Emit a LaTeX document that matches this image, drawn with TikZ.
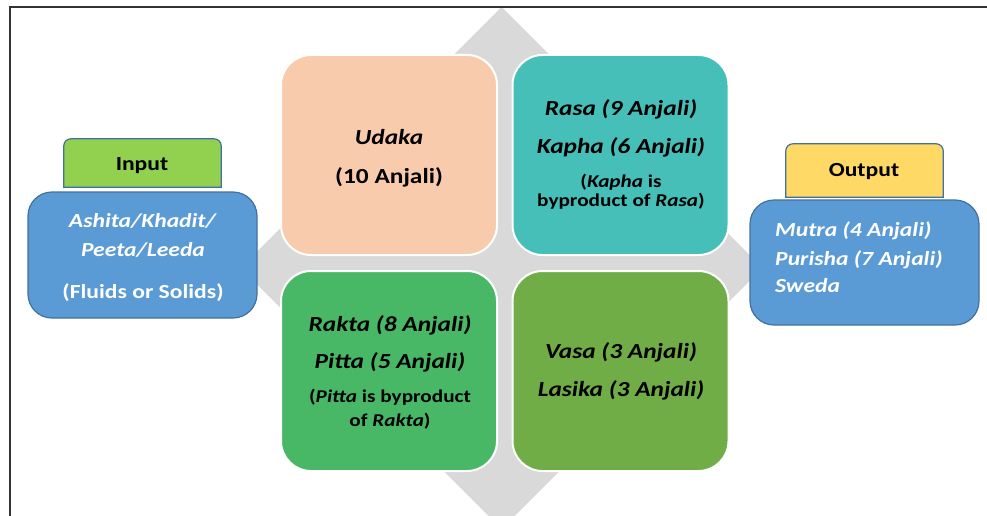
\documentclass[tikz,border=0pt]{standalone}
\usepackage{fontspec}
\setmainfont{Carlito}
\usepackage{graphicx}
\newcommand\sx[1]{\scalebox{1.18}[1]{#1}}
\definecolor{cpeach}{HTML}{F8CBAD}
\definecolor{cteal}{HTML}{45BFB8}
\definecolor{cgreenA}{HTML}{48B866}
\definecolor{cgreenB}{HTML}{70AD47}
\definecolor{cblue}{HTML}{5B9BD5}
\definecolor{cblueline}{HTML}{41719C}
\definecolor{clime}{HTML}{92D050}
\definecolor{cyellow}{HTML}{FFD966}
\definecolor{cgray}{HTML}{D9D9D9}
\definecolor{cframe}{HTML}{333333}
\tikzset{
  quad/.style={draw=white, line width=2pt, rounded corners=30pt, minimum width=216pt, minimum height=200pt, inner sep=0pt},
  iobox/.style={fill=cblue, draw=cblueline, line width=1.2pt, rounded corners=24pt, minimum width=229pt, inner sep=0pt},
  labbox/.style={minimum width=157pt, inner sep=0pt},
  big/.style={anchor=base, inner sep=0pt, font=\fontsize{21.5}{24}\selectfont\bfseries},
  small/.style={anchor=base, inner sep=0pt, font=\fontsize{18}{20}\selectfont\bfseries},
  iotxt/.style={anchor=base, inner sep=0pt, text=white, font=\fontsize{20}{22}\selectfont\bfseries},
  labtxt/.style={anchor=base, inner sep=0pt, font=\fontsize{20}{22}\selectfont\bfseries},
}
\begin{document}
\begin{tikzpicture}[x=1pt,y=-1pt]
\useasboundingbox (0,0) rectangle (987,516);
\clip (0,0) rectangle (987,516);
\fill[white] (0,0) rectangle (987,516);
% background diamond
\fill[cgray] (501.5,7) -- (762.5,268) -- (501.5,529) -- (240.5,268) -- cycle;
% frame
\draw[cframe, line width=1.6pt] (10,516) -- (10,7) -- (987,7);
% four quadrant boxes
\node[quad, fill=cpeach] (udaka) at (389,155) {};
\node[quad, fill=cteal] (rasa) at (620.5,155) {};
\node[quad, fill=cgreenA] (rakta) at (389,371) {};
\node[quad, fill=cgreenB] (vasa) at (620.5,371) {};
% texts
\node[big] (u1) at (389,144) {\sx{\textit{Udaka}}};
\node[big] (u2) at (389,183.3) {\sx{(10 Anjali)}};
\node[big] (r1) at (621,116) {\sx{\textit{Rasa (9 Anjali)}}};
\node[big] (r2) at (621,153.3) {\sx{\textit{Kapha (6 Anjali)}}};
\node[small] (r3) at (621,187.3) {\sx{(\textit{Kapha} is}};
\node[small] (r4) at (621,206.7) {\sx{byproduct of \textit{Rasa})}};
\node[big] (k1) at (390,331) {\sx{\textit{Rakta (8 Anjali)}}};
\node[big] (k2) at (390,368.7) {\sx{\textit{Pitta (5 Anjali)}}};
\node[small] (k3) at (390,402.7) {\sx{(\textit{Pitta} is byproduct}};
\node[small] (k4) at (390,426) {\sx{of \textit{Rakta})}};
\node[big] (v1) at (621,358.7) {\sx{\textit{Vasa (3 Anjali)}}};
\node[big] (v2) at (621,396) {\sx{\textit{Lasika (3 Anjali)}}};
% input
\node[labbox, minimum height=48pt] (inlab) at (142.5,163) {};
\draw[fill=clime, draw=cblueline, line width=1.2pt] (inlab.south west) [rounded corners=7pt] -- (inlab.north west) -- (inlab.north east) [sharp corners] -- (inlab.south east) -- cycle;
\node[labtxt] (intxt) at (142,170.7) {\sx{Input}};
\node[iobox, minimum height=126pt] (inbox) at (142.5,255) {};
\node[iotxt] (i1) at (143,227.3) {\sx{\textit{Ashita/Khadit/}}};
\node[iotxt] (i2) at (143,256) {\sx{\textit{Peeta/Leeda}}};
\node[iotxt] (i3) at (143,298.3) {\sx{(Fluids or Solids)}};
% output
\node[labbox, minimum height=53pt] (outlab) at (864.5,170.5) {};
\draw[fill=cyellow, draw=cblueline, line width=1.2pt] (outlab.south west) [rounded corners=7pt] -- (outlab.north west) -- (outlab.north east) [sharp corners] -- (outlab.south east) -- cycle;
\node[labtxt] (outtxt) at (864,176.5) {\sx{Output}};
\node[iobox, minimum height=125pt] (outbox) at (864.5,262.5) {};
\node[iotxt, anchor=base west] (o1) at (775,236) {\sx{\textit{Mutra (4 Anjali)}}};
\node[iotxt, anchor=base west] (o2) at (775,265) {\sx{\textit{Purisha (7 Anjali)}}};
\node[iotxt, anchor=base west] (o3) at (775,292.7) {\sx{\textit{Sweda}}};
\end{tikzpicture}
\end{document}
